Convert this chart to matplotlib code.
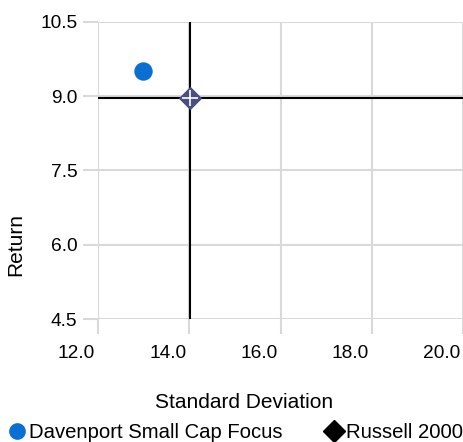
import matplotlib.pyplot as plt
from matplotlib.lines import Line2D
from matplotlib.transforms import ScaledTranslation

plt.rcParams['font.family'] = ['Liberation Sans', 'DejaVu Sans']

# Data
fund_name = 'Davenport Small Cap Focus'
fund_std = [12.98]
fund_ret = [9.51]
bench_name = 'Russell 2000'
bench_std = [14.02]
bench_ret = [8.96]
x_ticks = [12.0, 14.0, 16.0, 18.0, 20.0]
y_ticks = [4.5, 6.0, 7.5, 9.0, 10.5]

grid_col = '#d9d9d9'

fig = plt.figure(figsize=(4.64, 4.42), dpi=100)
ax = fig.add_axes([98 / 464, 1 - 319 / 442, 365 / 464, 297 / 442])

ax.set_xlim(x_ticks[0], x_ticks[-1])
ax.set_ylim(y_ticks[0], y_ticks[-1])
ax.set_xticks(x_ticks)
ax.set_yticks(y_ticks)
ax.set_xticklabels(['%.1f' % v for v in x_ticks], ha='right')
ax.set_yticklabels(['%.1f' % v for v in y_ticks])
ax.grid(True, color=grid_col, linewidth=1.5)
ax.tick_params(axis='x', length=11, width=1.5, color=grid_col, pad=8, labelsize=13.8)
ax.tick_params(axis='y', length=11, width=1.5, color=grid_col, pad=4, labelsize=13.8)
shift = ScaledTranslation(-2 / 72, 0, fig.dpi_scale_trans)
for lbl in ax.get_xticklabels():
    lbl.set_transform(lbl.get_transform() + shift)
for s in ax.spines.values():
    s.set_visible(False)
ax.set_axisbelow(True)

# crosshair at benchmark
ax.axhline(bench_ret[0], color='black', linewidth=1.5, zorder=2)
ax.axvline(bench_std[0], color='black', linewidth=1.5, zorder=2)

ax.scatter(fund_std, fund_ret, s=150, color='#0a6fd0', zorder=3)
ax.scatter(bench_std, bench_ret, s=120, marker='D', color='#4b4f80', zorder=3)
ax.scatter(bench_std, bench_ret, s=120, marker='+', color='white', linewidths=1.2, zorder=4)

ax.set_xlabel('Standard Deviation', fontsize=15)
ax.set_ylabel('Return', fontsize=15)
ax.xaxis.set_label_coords(0.399, -0.249)
ax.yaxis.set_label_coords(-0.2, 0.25)

handles = [
    Line2D([], [], marker='o', linestyle='none', color='#0a6fd0', markersize=11),
    Line2D([], [], marker='D', linestyle='none', color='black', markersize=11),
]
fig.legend(handles, [fund_name, bench_name], loc='center left', ncol=2,
           bbox_to_anchor=(7 / 464, 1 - 433 / 442), frameon=False, fontsize=14.6,
           handletextpad=0.1, columnspacing=2.0, handlelength=1.0, borderpad=0,
           borderaxespad=0)

fig.savefig('out.png', dpi=100)
